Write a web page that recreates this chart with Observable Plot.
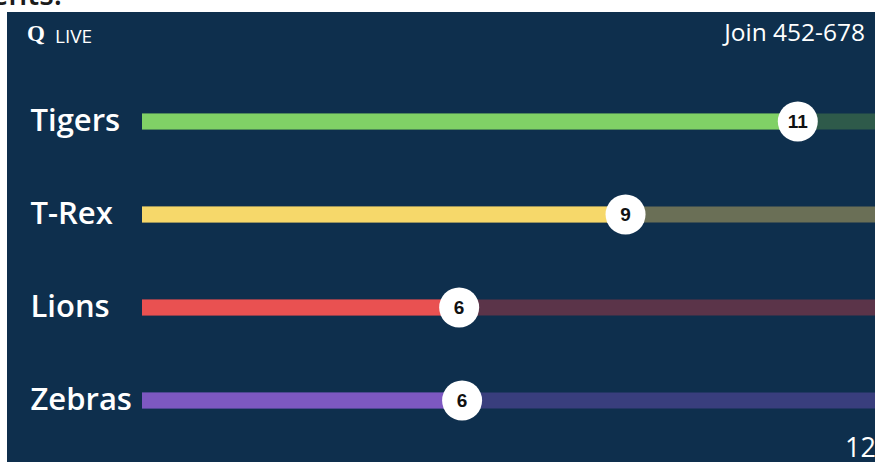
<!DOCTYPE html>
<html><head><meta charset="utf-8">
<script src="https://cdn.jsdelivr.net/npm/d3@7"></script>
<script src="https://cdn.jsdelivr.net/npm/@observablehq/plot@0.6"></script>
<style>
html,body{margin:0;padding:0;background:#fff;width:875px;height:462px;overflow:hidden;position:relative;}
#frag{position:absolute;left:-9px;top:-27px;font:600 30px "Open Sans";color:#1b1b1b;white-space:nowrap;}
#panel{position:absolute;left:7px;top:12px;width:868px;height:450px;background:#0e2f4d;overflow:hidden;}
#chart{position:absolute;left:0;top:0;}
#q{position:absolute;left:20px;top:9px;font:bold 23px "Liberation Serif";color:#fff;}
#live{position:absolute;left:48px;top:11px;font:400 19px "Open Sans";color:#fff;}
#join{position:absolute;right:10px;top:3px;font:400 24.5px "Open Sans";color:#fff;white-space:nowrap;}
#num{position:absolute;left:838px;top:416px;font:400 27px "Open Sans";color:#fff;white-space:nowrap;}
</style></head>
<body>
<div id="frag">ents.</div>
<div id="panel">
  <div id="chart"></div>
  <div id="q">Q</div>
  <div id="live">LIVE</div>
  <div id="join">Join 452-678</div>
  <div id="num">12</div>
</div>
<script>
const teams = ["Tigers", "T-Rex", "Lions", "Zebras"];
const scores = [11, 9, 6, 6];
const progress = [0.894, 0.659, 0.432, 0.436];

const barColors = ["#80d166", "#f6d86a", "#e95151", "#7d58c1"];
const trackColors = ["#2e5a4a", "#6a6f56", "#5b3449", "#393e7d"];

const data = teams.map((team, i) => ({
  team, score: scores[i], progress: progress[i], color: barColors[i], track: trackColors[i]
}));

const chart = Plot.plot({
  width: 868, height: 450,
  marginLeft: 135, marginRight: 0, marginTop: 108.7, marginBottom: 61.7,
  x: {domain: [0, 1], axis: null},
  y: {type: "point", domain: teams, axis: null, padding: 0},
  color: {type: "identity"},
  style: {background: "transparent", overflow: "visible"},
  marks: [
    Plot.ruleY(data, {y: "team", x1: 0, x2: 1, stroke: "track", strokeWidth: 16}),
    Plot.ruleY(data, {y: "team", x1: 0, x2: "progress", stroke: "color", strokeWidth: 16}),
    Plot.dot(data, {x: "progress", y: "team", r: 20, fill: "white", stroke: null}),
    Plot.text(data, {x: "progress", y: "team", text: d => String(d.score), fill: "#111", fontSize: 19, fontWeight: "bold", fontFamily: "Liberation Sans"}),
    Plot.text(data, {y: "team", frameAnchor: "left", dx: -112, text: "team", textAnchor: "start", fill: "white", fontSize: 31, fontWeight: 600, fontFamily: "Open Sans"})
  ]
});
document.getElementById("chart").appendChild(chart);
</script>
</body></html>
